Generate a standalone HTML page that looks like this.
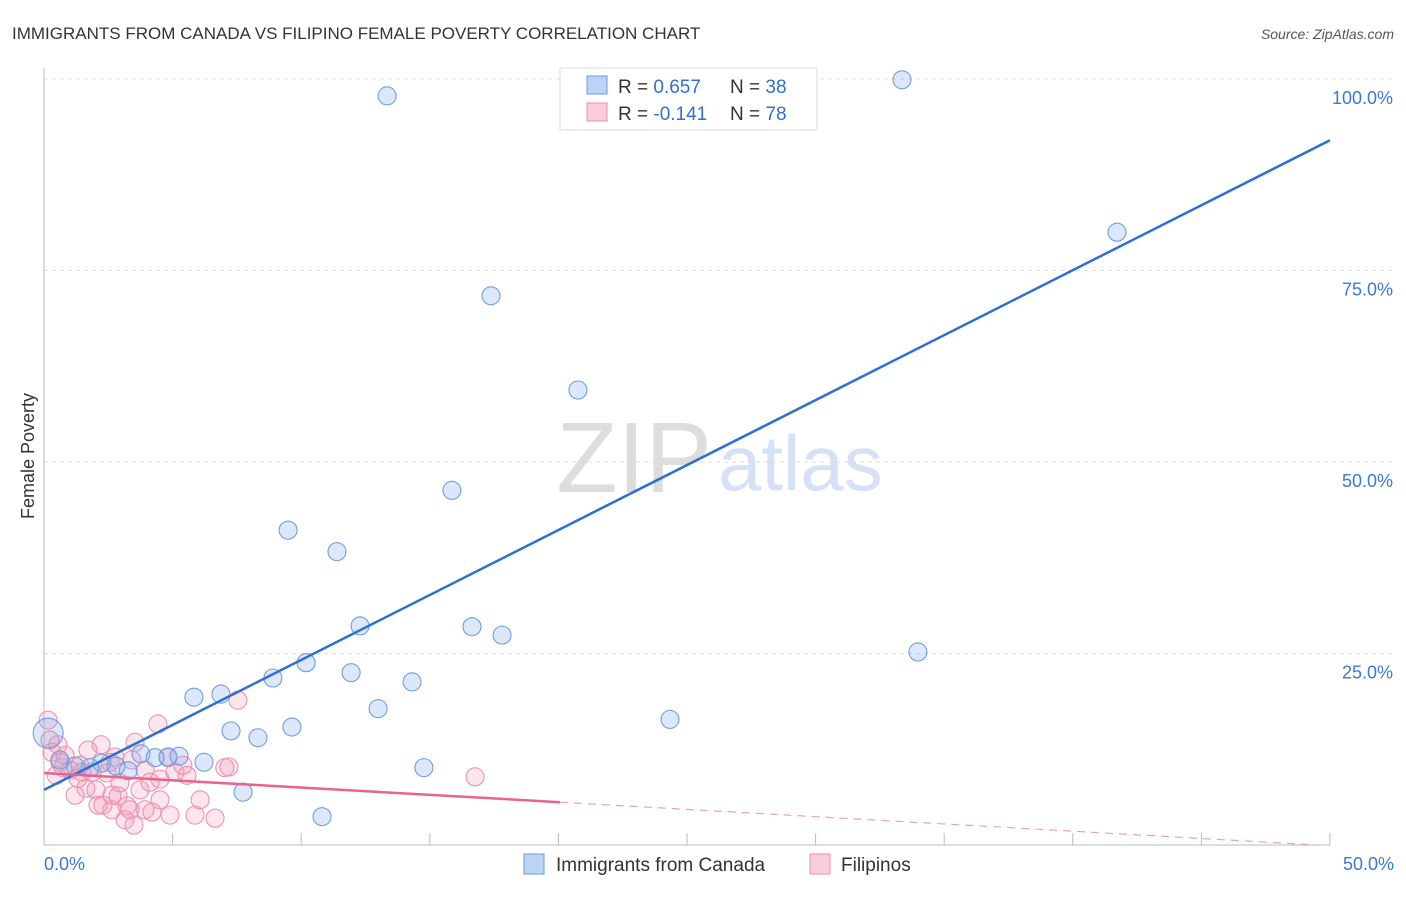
<!DOCTYPE html>
<html><head><meta charset="utf-8"><style>
body{margin:0;background:#fff;font-family:"Liberation Sans",sans-serif;}
svg text{font-family:"Liberation Sans",sans-serif;}
</style></head><body>
<svg id="c" width="1406" height="892">
<text x="12" y="39" font-size="17" fill="#333">IMMIGRANTS FROM CANADA VS FILIPINO FEMALE POVERTY CORRELATION CHART</text>
<text x="1394" y="39" font-size="14" fill="#555" font-style="italic" text-anchor="end">Source: ZipAtlas.com</text>
<text x="712" y="492" font-size="100" fill="#ddd" text-anchor="end" font-family="Liberation Serif">ZIP</text>
<text x="718" y="490" font-size="78" fill="#d5e2f5">atlas</text>
<text transform="translate(34,456) rotate(-90)" font-size="18" fill="#333" text-anchor="middle">Female Poverty</text>
<g id="grid"></g><g id="pts"></g><g id="lines"></g>
<g>
<rect x="560" y="68" width="257" height="62" fill="#fff" stroke="#ddd"/>
<rect x="587" y="76" width="20" height="18" fill="#bcd4f4" stroke="#6a9ae0"/>
<rect x="587" y="103" width="20" height="18" fill="#fbcdd9" stroke="#eb8fab"/>
<text x="618" y="93" font-size="19" fill="#333">R = <tspan fill="#2f6fd6">0.657</tspan><tspan x="730">N = </tspan><tspan fill="#2f6fd6">38</tspan></text>
<text x="618" y="120" font-size="19" fill="#333">R = <tspan fill="#2f6fd6">-0.141</tspan><tspan x="730">N = </tspan><tspan fill="#2f6fd6">78</tspan></text>
</g>
<g>
<rect x="524" y="854" width="20" height="20" fill="#bcd4f4" stroke="#6a9ae0"/>
<text x="556" y="871" font-size="19" fill="#333">Immigrants from Canada</text>
<rect x="810" y="854" width="20" height="20" fill="#fbcdd9" stroke="#eb8fab"/>
<text x="841" y="871" font-size="19" fill="#333">Filipinos</text>
</g>
<text x="44" y="870" font-size="18" fill="#3b78d8">0.0%</text>
<text x="1394" y="870" font-size="18" fill="#3b78d8" text-anchor="end">50.0%</text>
</svg>
<script>
const blueX=[13.34,33.36,41.72,17.38,20.76,15.86,9.49,11.39,12.29,16.64,17.81,33.98,10.19,11.94,8.90,14.31,5.83,6.88,12.99,24.34,7.27,9.64,8.32,3.77,4.82,5.25,6.22,2.80,2.25,3.27,14.77,7.74,10.81,0.16,1.79,0.62,1.21,4.32];
const blueY=[97.8,99.9,80.0,71.7,59.4,46.3,41.1,38.3,28.6,28.5,27.4,25.2,23.8,22.5,21.8,21.3,19.3,19.7,17.8,16.4,14.9,15.4,14.0,11.9,11.5,11.6,10.8,10.3,10.7,9.7,10.1,6.9,3.7,14.6,10.1,11.1,10.3,11.4];
const pinkX=[4.43,7.54,7.19,16.76,0.16,0.23,0.31,0.62,0.74,1.01,1.4,1.71,2.22,2.76,3.54,2.45,1.63,2.02,1.21,2.29,2.95,3.42,3.93,4.51,5.09,5.56,6.07,6.65,5.87,4.9,4.51,3.93,3.5,3.15,2.64,2.1,3.23,3.73,2.88,1.87,0.82,0.54,2.57,4.12,4.82,5.40,7.03,1.48,0.47,1.32,3.34,2.64,4.2];
const pinkY=[15.8,18.9,10.2,8.9,16.3,13.7,12.1,10.8,10.1,9.8,10.4,12.4,13.1,11.5,13.4,9.4,7.4,7.2,6.5,5.2,8.1,11.1,9.8,8.6,9.5,9.1,5.9,3.5,3.9,3.9,5.9,4.6,2.6,3.3,4.6,5.2,5.1,7.2,6.4,9.5,11.7,13.1,10.8,8.2,11.4,10.4,10.1,9.5,9.1,8.7,4.6,6.5,4.3];
const blueTrend=[7.2,92.0];
const pinkTrend=[9.4,-0.19];
const yTicks=[25,50,75,100];
const NS='http://www.w3.org/2000/svg';
const X=v=>44+v/50*1286, Y=v=>845-v/100*766;
function mk(t,a,p){const e=document.createElementNS(NS,t);for(const k in a)e.setAttribute(k,a[k]);p.appendChild(e);return e;}
const g=document.getElementById('grid');
yTicks.forEach(t=>{
 const l=mk('line',{x1:44,x2:1394,y1:Y(t),y2:Y(t),stroke:'#ddd','stroke-dasharray':'4,4'},g);
 
 
 const tx=mk('text',{x:1393,y:Y(t)+25,'font-size':18,fill:'#3b78d8','text-anchor':'end'},g);
 tx.textContent=t.toFixed(1)+'%';
 
 
});
mk('line',{x1:44,x2:44,y1:68,y2:845,stroke:'#bbb'},g);
mk('line',{x1:44,x2:1330,y1:845,y2:845,stroke:'#bbb'},g);
for(let i=1;i<=10;i++){const t=mk('line',{x1:X(i*5),x2:X(i*5),y1:833,y2:845,stroke:'#bbb'},g);
 
 }
const P=document.getElementById('pts');
pinkX.forEach((x,i)=>{const c=mk('circle',{cx:X(x),cy:Y(pinkY[i]),r:9,fill:'rgba(245,150,180,0.25)',stroke:'#ec93b0','stroke-width':1.1},P);
 
 });
blueX.forEach((x,i)=>{const c=mk('circle',{cx:X(x),cy:Y(blueY[i]),r:i==33?15:9,fill:'rgba(130,170,235,0.28)',stroke:'#6f9de2','stroke-width':1.1},P);
 
 });
const L=document.getElementById('lines');
let b=mk('line',{x1:X(0),y1:Y(blueTrend[0]),x2:X(50),y2:Y(blueTrend[1]),stroke:'#2c6fd6','stroke-width':2.5},L);


const pe=20.06, pEnd=Math.min(50,-pinkTrend[0]/pinkTrend[1]);
let p1=mk('line',{x1:X(0),y1:Y(pinkTrend[0]),x2:X(pe),y2:Y(pinkTrend[0]+pinkTrend[1]*pe),stroke:'#e8648f','stroke-width':2.5},L);


let p2=mk('line',{x1:X(pe),y1:Y(pinkTrend[0]+pinkTrend[1]*pe),x2:X(pEnd),y2:Y(Math.max(0,pinkTrend[0]+pinkTrend[1]*pEnd)),stroke:'#eaa0b8','stroke-width':1.2,'stroke-dasharray':'8,6'},L);


</script>
</body></html>
